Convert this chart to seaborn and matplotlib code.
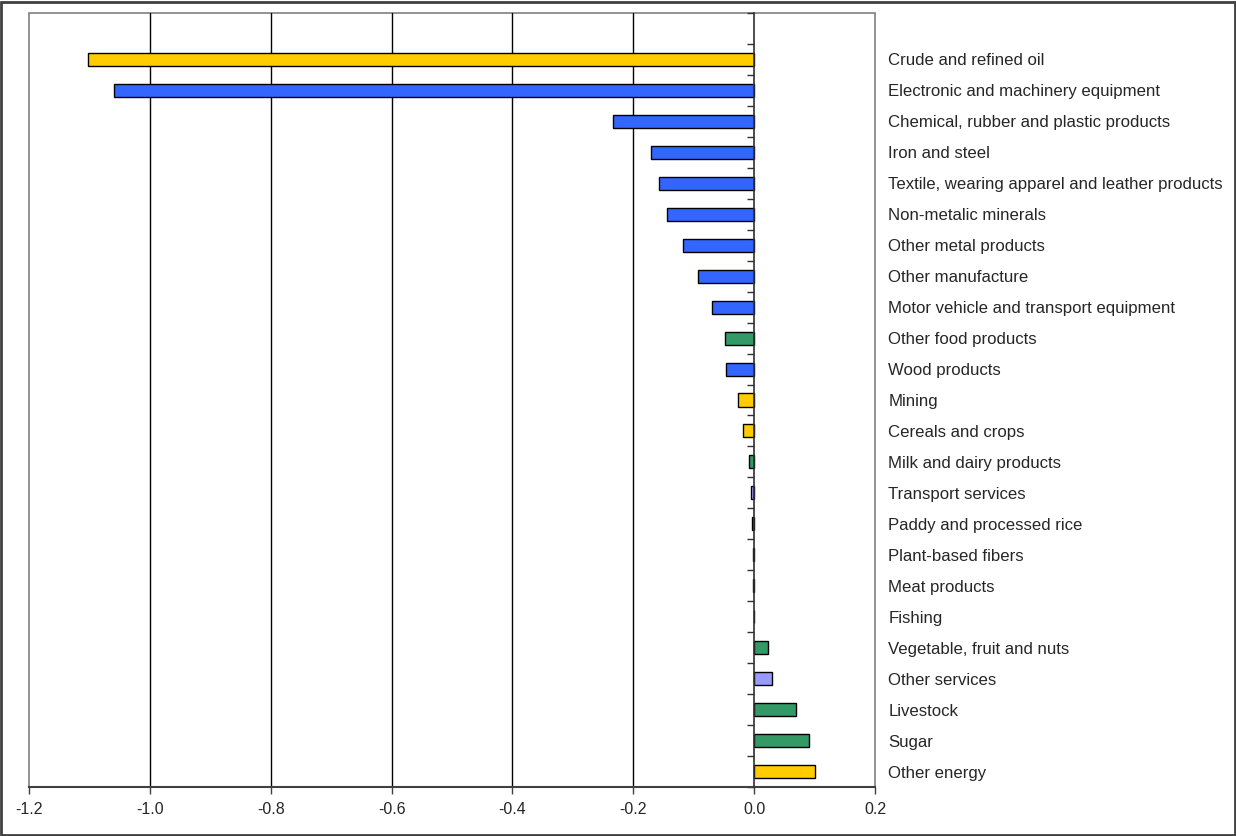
import matplotlib
matplotlib.use("Agg")
import matplotlib.pyplot as plt
from matplotlib.patches import Rectangle
from matplotlib.ticker import FixedLocator, StrMethodFormatter
import seaborn as sns
import pandas as pd

sectors = [
    "Crude and refined oil",
    "Electronic and machinery equipment",
    "Chemical, rubber and plastic products",
    "Iron and steel",
    "Textile, wearing apparel and leather products",
    "Non-metalic minerals",
    "Other metal products",
    "Other manufacture",
    "Motor vehicle and transport equipment",
    "Other food products",
    "Wood products",
    "Mining",
    "Cereals and crops",
    "Milk and dairy products",
    "Transport services",
    "Paddy and processed rice",
    "Plant-based fibers",
    "Meat products",
    "Fishing",
    "Vegetable, fruit and nuts",
    "Other services",
    "Livestock",
    "Sugar",
    "Other energy",
]
changes = [
    -1.102, -1.059, -0.233, -0.170, -0.158, -0.144, -0.118, -0.093,
    -0.070, -0.048, -0.046, -0.026, -0.019, -0.009, -0.005, -0.003,
    -0.0015, -0.0015, 0.0, 0.023, 0.029, 0.070, 0.0915, 0.1015,
]
groups = [
    "energy", "industry", "industry", "industry", "industry", "industry",
    "industry", "industry", "industry", "agrifood", "industry", "energy",
    "energy", "agrifood", "services", "agrifood", "agrifood", "agrifood",
    "agrifood", "agrifood", "services", "agrifood", "agrifood", "energy",
]
group_colors = {
    "energy": "#FFCC00",
    "industry": "#3366FF",
    "agrifood": "#339966",
    "services": "#9999FF",
}
x_ticks = [-1.2, -1.0, -0.8, -0.6, -0.4, -0.2, 0.0, 0.2]

df = pd.DataFrame({"sector": sectors, "change": changes, "group": groups})
palette = {s: group_colors[g] for s, g in zip(sectors, groups)}

sns.set_style("white")
plt.rcParams["font.family"] = ["Liberation Sans", "DejaVu Sans"]
plt.rcParams["axes.unicode_minus"] = False

W, H = 1236, 836
fig = plt.figure(figsize=(W / 100, H / 100), dpi=100)
ax = fig.add_axes([29 / W, 1 - 787 / H, (875 - 29) / W, (787 - 13) / H])

sns.barplot(
    data=df, x="change", y="sector", hue="sector", palette=palette,
    orient="h", width=0.42, edgecolor="black", linewidth=1.0,
    legend=False, saturation=1, ax=ax, zorder=3,
)

ax.set_xlim(-1.2, 0.2)
ax.set_ylim(len(sectors) - 0.5, -1.5)
ax.set_xlabel("")
ax.set_ylabel("")

# vertical gridlines
for xv in x_ticks[1:-2]:
    ax.axvline(xv, color="black", linewidth=1.0, zorder=1)

# x axis
ax.xaxis.set_major_locator(FixedLocator(x_ticks))
ax.xaxis.set_major_formatter(StrMethodFormatter("{x:.1f}"))
ax.tick_params(axis="x", which="major", direction="out", length=5, width=1,
               color="#404040", labelsize=11.5, pad=6, bottom=True)

# category axis drawn at zero, labels on the right
ax.spines["left"].set_position(("data", 0))
ax.spines["left"].set_color("#303030")
ax.spines["left"].set_linewidth(1.2)
ax.spines["left"].set_zorder(4)
ax.spines["bottom"].set_color("#404040")
ax.spines["bottom"].set_linewidth(1.5)
ax.spines["top"].set_visible(False)
ax.spines["right"].set_visible(False)

ax.yaxis.set_major_locator(FixedLocator(list(range(len(sectors)))))
ax.set_yticklabels(sectors)
ax.yaxis.set_minor_locator(FixedLocator([i - 0.5 for i in range(-1, len(sectors) + 1)]))
ax.tick_params(axis="y", which="major", left=False, right=False,
               labelleft=False, labelright=True, labelsize=12.1, pad=6)
ax.tick_params(axis="y", which="minor", left=True, right=False,
               direction="out", length=5, width=1, color="#303030")

# grey frame around the plot area
ax.add_patch(Rectangle((0, 0), 1, 1, transform=ax.transAxes, fill=False,
                       edgecolor="#808080", linewidth=1.2, zorder=0.5,
                       clip_on=False))

# outer border of the figure
fig.add_artist(Rectangle((1.5 / W, 1.5 / H), (W - 3) / W, (H - 3) / H,
                         transform=fig.transFigure, fill=False,
                         edgecolor="#404040", linewidth=2))

fig.savefig("out.png", dpi=100, facecolor="white")
